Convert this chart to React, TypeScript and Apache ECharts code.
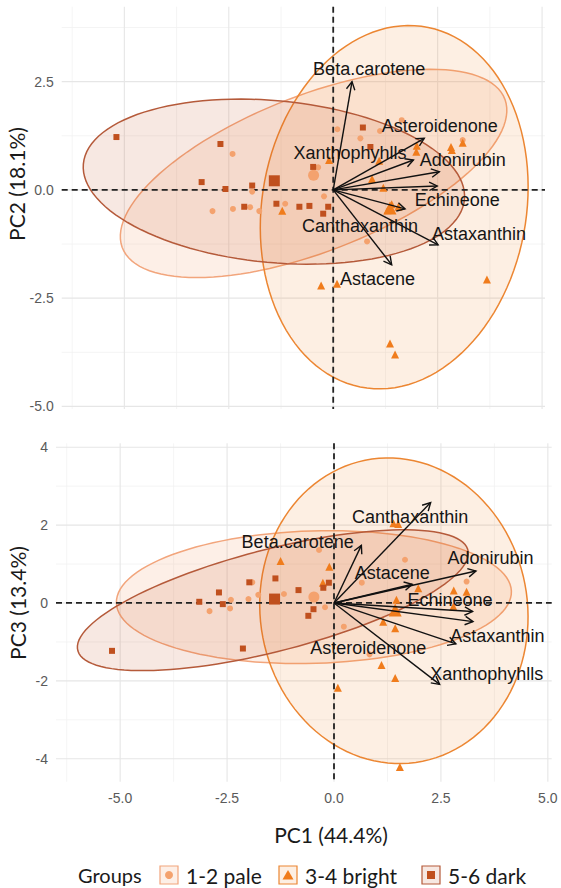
import React, { useEffect, useRef } from "react";
import * as echarts from "echarts";

const groupNames = ["1-2 pale", "3-4 bright", "5-6 dark"];
const pointColors = ["#F4A26E", "#F07C1C", "#C0501E"];
const lineColors = ["#F2A57C", "#EC8632", "#B55A3A"];
const fillColors = ["rgba(244,162,110,0.17)", "rgba(240,124,28,0.12)", "rgba(192,80,30,0.13)"];
const groupSymbols = ["circle", "triangle", "rect"];

const xTicks = [-5, -2.5, 0, 2.5, 5];
const xMinor = [-6.25, -3.75, -1.25, 1.25, 3.75];
const topYTicks = [-5, -2.5, 0, 2.5];
const topYMinor = [-3.75, -1.25, 1.25, 3.75];
const botYTicks = [-4, -2, 0, 2, 4];
const botYMinor = [-3, -1, 1, 3];

const variables = ["Beta.carotene", "Asteroidenone", "Xanthophyhlls", "Adonirubin", "Echineone", "Canthaxanthin", "Astaxanthin", "Astacene"];

// PC1 vs PC2
const topPale = [[-2.41, 0.83], [-1.94, -0.04], [-2.89, -0.49], [-2.40, -0.44], [-1.99, -0.40], [-1.77, -0.49], [0.10, 1.40], [0.65, 1.19], [-0.36, 0.52], [-0.22, -0.15], [-1.15, -0.32], [0.81, -1.19], [1.64, 1.61], [1.12, 1.36], [3.10, 1.15]];
const topBright = [[-0.10, 0.69], [0.93, 0.25], [-1.22, -0.48], [1.99, 0.88], [2.00, 1.02], [2.82, 0.99], [2.84, 0.92], [3.10, 1.09], [1.20, 0.05], [1.40, -0.33], [1.56, -0.39], [1.30, -0.47], [-0.29, -2.21], [0.09, -2.17], [3.68, -2.07], [1.36, -3.55], [1.48, -3.80], [1.10, 0.67]];
const topDark = [[-5.19, 1.22], [-2.70, 1.06], [-3.15, 0.18], [-2.58, 0.02], [-1.94, 0.10], [-2.13, -0.39], [-1.36, -0.32], [0.71, 1.44], [0.89, 0.99], [-0.48, 0.53], [-0.81, -0.39], [-0.57, -0.37], [-0.12, -0.39], [-0.24, -0.55]];
const topCentroids = [[-0.47, 0.34], [1.36, -0.42], [-1.41, 0.21]];
// ellipse: centre x, centre y, semi-major, semi-minor, angle (deg)
const topEllipses = [[-0.47, 0.38, 4.89, 1.81, 20.4], [1.46, -0.40, 4.23, 3.16, 78.9], [-1.42, 0.19, 4.58, 1.87, -5.1]];
const topLoadings = [[0.45, 2.50], [2.18, 1.19], [1.92, 0.69], [2.54, 0.42], [2.49, 0.09], [1.72, -0.44], [2.51, -1.27], [1.40, -1.73]];
const topLabelPos = [[0.86, 2.78], [2.55, 1.48], [0.40, 0.85], [3.10, 0.69], [2.97, -0.24], [0.64, -0.83], [3.49, -1.01], [1.06, -2.06]];

// PC1 vs PC3
const botPale = [[-2.91, -0.21], [-2.41, 0.08], [-2.43, -0.14], [-1.91, 0.53], [-2.00, 0.10], [-1.77, 0.21], [-1.17, 0.23], [-0.35, 1.36], [-0.21, -0.11], [0.23, -0.61], [0.83, -1.32], [0.65, 0.52], [1.66, 1.11], [3.10, 0.55]];
const botBright = [[-1.25, 1.08], [-0.11, 0.93], [-0.26, 0.52], [1.39, 2.05], [1.50, 2.03], [1.97, 0.38], [2.80, 0.32], [3.10, 0.29], [1.46, 0.08], [2.79, -0.09], [1.15, -0.48], [1.43, -0.65], [1.11, -1.59], [1.43, -1.93], [0.09, -2.18], [1.54, -4.21]];
const botDark = [[-5.19, -1.23], [-3.15, 0.03], [-2.69, 0.27], [-2.60, -0.03], [-1.98, 0.53], [-2.13, -1.17], [-1.37, 0.63], [-0.83, 0.33], [-0.12, 0.52], [-0.25, 0.39], [-0.48, -0.16], [-0.60, -0.33]];
const botCentroids = [[-0.47, 0.15], [1.43, -0.18], [-1.39, 0.10]];
const botEllipses = [[-0.47, 0.15, 4.62, 1.70, 1.9], [1.40, -0.20, 3.93, 3.13, 95.1], [-1.43, 0.07, 4.74, 1.30, 16.0]];
const botLoadings = [[0.64, 1.48], [3.25, -0.48], [2.47, -2.09], [3.32, 0.82], [3.24, -0.22], [2.26, 2.58], [2.85, -1.05], [1.83, 0.48]];
const botLabelPos = [[-0.85, 1.56], [0.80, -1.16], [3.57, -1.83], [3.66, 1.15], [2.71, 0.08], [1.78, 2.22], [3.82, -0.85], [1.36, 0.77]];

const LABEL_FONT = '"Liberation Sans", Arial, sans-serif';
const TITLE_FONT = 'Lato, "Open Sans", sans-serif';

function gridLines(xMaj: number[], xMin: number[], yMaj: number[], yMin: number[]) {
  const out: number[][] = [];
  xMin.forEach((v) => out.push([v, 0, 1]));
  yMin.forEach((v) => out.push([v, 1, 1]));
  xMaj.forEach((v) => out.push([v, 0, 0]));
  yMaj.forEach((v) => out.push([v, 1, 0]));
  return out;
}

function lineRender(params: any, api: any) {
  const v = api.value(0);
  const orient = api.value(1);
  const kind = api.value(2);
  const cs = params.coordSys;
  let shape;
  if (orient === 0) {
    const px = api.coord([v, 0])[0];
    shape = { x1: px, y1: cs.y, x2: px, y2: cs.y + cs.height };
  } else {
    const py = api.coord([0, v])[1];
    shape = { x1: cs.x, y1: py, x2: cs.x + cs.width, y2: py };
  }
  let style: any;
  if (kind === 0) style = { stroke: "#E6E6E6", lineWidth: 1.1 };
  else if (kind === 1) style = { stroke: "#F1F1F1", lineWidth: 0.8 };
  else style = { stroke: "#222222", lineWidth: 1.8, lineDash: [6, 4] };
  return { type: "line", shape, style };
}

function ellipseRender(params: any, api: any) {
  const cx = api.value(0), cy = api.value(1), a = api.value(2), b = api.value(3);
  const phi = (api.value(4) * Math.PI) / 180;
  const gi = api.value(5);
  const pts: number[][] = [];
  for (let k = 0; k < 120; k++) {
    const t = (k / 120) * Math.PI * 2;
    const x = cx + a * Math.cos(t) * Math.cos(phi) - b * Math.sin(t) * Math.sin(phi);
    const y = cy + a * Math.cos(t) * Math.sin(phi) + b * Math.sin(t) * Math.cos(phi);
    pts.push(api.coord([x, y]));
  }
  return {
    type: "polygon",
    shape: { points: pts },
    style: { fill: fillColors[gi], stroke: lineColors[gi], lineWidth: 1.5 },
  };
}

function arrowRender(params: any, api: any) {
  const o = api.coord([0, 0]);
  const t = api.coord([api.value(0), api.value(1)]);
  const ang = Math.atan2(t[1] - o[1], t[0] - o[0]);
  const L = 9;
  const sp = (28 * Math.PI) / 180;
  const p1 = [t[0] - L * Math.cos(ang - sp), t[1] - L * Math.sin(ang - sp)];
  const p2 = [t[0] - L * Math.cos(ang + sp), t[1] - L * Math.sin(ang + sp)];
  return {
    type: "group",
    children: [
      { type: "line", shape: { x1: o[0], y1: o[1], x2: t[0], y2: t[1] }, style: { stroke: "#111", lineWidth: 1.4 } },
      { type: "polyline", shape: { points: [p1, t, p2] }, style: { stroke: "#111", lineWidth: 1.4, fill: null } },
    ],
  };
}

function labelRender(params: any, api: any) {
  const c = api.coord([api.value(0), api.value(1)]);
  return {
    type: "text",
    x: c[0],
    y: c[1],
    style: {
      text: variables[api.value(2)],
      fill: "#151515",
      fontSize: 18,
      fontFamily: LABEL_FONT,
      align: "center",
      verticalAlign: "middle",
    },
  };
}

function panelSeries(gi: number, pts: number[][][], cents: number[][], ells: number[][], loads: number[][], labs: number[][], yMaj: number[], yMin: number[]) {
  const s: any[] = [];
  s.push({
    type: "custom", xAxisIndex: gi, yAxisIndex: gi, silent: true, z: 1,
    data: gridLines(xTicks, xMinor, yMaj, yMin), renderItem: lineRender,
  });
  s.push({
    type: "custom", xAxisIndex: gi, yAxisIndex: gi, silent: true, z: 2,
    data: ells.map((e, i) => [...e, i]), renderItem: ellipseRender,
  });
  s.push({
    type: "custom", xAxisIndex: gi, yAxisIndex: gi, silent: true, z: 3,
    data: [[0, 0, 2], [0, 1, 2]], renderItem: lineRender,
  });
  pts.forEach((p, i) => {
    s.push({
      type: "scatter", name: groupNames[i], xAxisIndex: gi, yAxisIndex: gi, z: 4,
      symbol: groupSymbols[i], symbolSize: i === 1 ? 8 : 6,
      itemStyle: { color: pointColors[i], opacity: 1 },
      data: [...p.map((q) => q), { value: cents[i], symbolSize: i === 1 ? 13 : 11 }],
    });
  });
  s.push({
    type: "custom", xAxisIndex: gi, yAxisIndex: gi, silent: true, z: 5,
    data: loads, renderItem: arrowRender,
  });
  s.push({
    type: "custom", xAxisIndex: gi, yAxisIndex: gi, silent: true, z: 6,
    data: labs.map((p, i) => [p[0], p[1], i]), renderItem: labelRender,
  });
  return s;
}

const axisLabelStyle = { color: "#5a5a5a", fontSize: 14, fontFamily: LABEL_FONT };
const hidden = { axisLine: { show: false }, axisTick: { show: false }, splitLine: { show: false } };

function legendGraphics() {
  const cy = 875;
  const els: any[] = [
    { type: "text", x: 78, y: cy, style: { text: "Groups", fill: "#1a1a1a", fontSize: 20, fontFamily: TITLE_FONT, align: "left", verticalAlign: "middle" } },
  ];
  const boxX = [160, 279, 422];
  boxX.forEach((bx, i) => {
    els.push({ type: "rect", shape: { x: bx, y: cy - 9, width: 18, height: 18 }, style: { fill: fillColors[i], stroke: lineColors[i], lineWidth: 1.2 } });
    const mx = bx + 9;
    if (i === 0) els.push({ type: "circle", shape: { cx: mx, cy, r: 4 }, style: { fill: pointColors[i] } });
    if (i === 1) els.push({ type: "polygon", shape: { points: [[mx, cy - 5], [mx + 5.5, cy + 4.5], [mx - 5.5, cy + 4.5]] }, style: { fill: pointColors[i] } });
    if (i === 2) els.push({ type: "rect", shape: { x: mx - 4, y: cy - 4, width: 8, height: 8 }, style: { fill: pointColors[i] } });
    els.push({ type: "text", x: bx + 26, y: cy, style: { text: groupNames[i], fill: "#1a1a1a", fontSize: 21, fontFamily: TITLE_FONT, align: "left", verticalAlign: "middle" } });
  });
  return els;
}

export default function App() {
  const ref = useRef<HTMLDivElement>(null);
  useEffect(() => {
    document.body.style.margin = "0";
    const chart = echarts.init(ref.current!, null, { renderer: "svg" });
    const option: any = {
      animation: false,
      backgroundColor: "#ffffff",
      grid: [
        { left: 61.7, top: 6.7, width: 483.3, height: 402.3 },
        { left: 56, top: 443.3, width: 495.7, height: 338.4 },
      ],
      xAxis: [
        { type: "value", gridIndex: 0, min: -6.5, max: 5.07, ...hidden, axisLabel: { show: false } },
        {
          type: "value", gridIndex: 1, min: -6.5, max: 5.09, ...hidden,
          axisLabel: { ...axisLabelStyle, margin: 9, customValues: xTicks, formatter: (v: number) => v.toFixed(1) },
        },
      ],
      yAxis: [
        {
          type: "value", gridIndex: 0, min: -5.06, max: 4.23, ...hidden,
          axisLabel: { ...axisLabelStyle, margin: 8, customValues: topYTicks, formatter: (v: number) => v.toFixed(1) },
        },
        {
          type: "value", gridIndex: 1, min: -4.59, max: 4.1, ...hidden,
          axisLabel: { ...axisLabelStyle, margin: 8, customValues: botYTicks, formatter: (v: number) => String(v) },
        },
      ],
      series: [
        ...panelSeries(0, [topPale, topBright, topDark], topCentroids, topEllipses, topLoadings, topLabelPos, topYTicks, topYMinor),
        ...panelSeries(1, [botPale, botBright, botDark], botCentroids, botEllipses, botLoadings, botLabelPos, botYTicks, botYMinor),
      ],
      graphic: [
        { type: "text", x: 16, y: 184, rotation: Math.PI / 2, style: { text: "PC2 (18.1%)", fill: "#1a1a1a", fontSize: 21, fontFamily: TITLE_FONT, align: "center", verticalAlign: "middle" } },
        { type: "text", x: 17, y: 603, rotation: Math.PI / 2, style: { text: "PC3 (13.4%)", fill: "#1a1a1a", fontSize: 21, fontFamily: TITLE_FONT, align: "center", verticalAlign: "middle" } },
        { type: "text", x: 331, y: 834, style: { text: "PC1 (44.4%)", fill: "#1a1a1a", fontSize: 21, fontFamily: TITLE_FONT, align: "center", verticalAlign: "middle" } },
        ...legendGraphics(),
      ],
    };
    chart.setOption(option);
    return () => chart.dispose();
  }, []);
  return <div ref={ref} style={{ position: "absolute", left: 0, top: 0, width: 561, height: 888 }} />;
}
